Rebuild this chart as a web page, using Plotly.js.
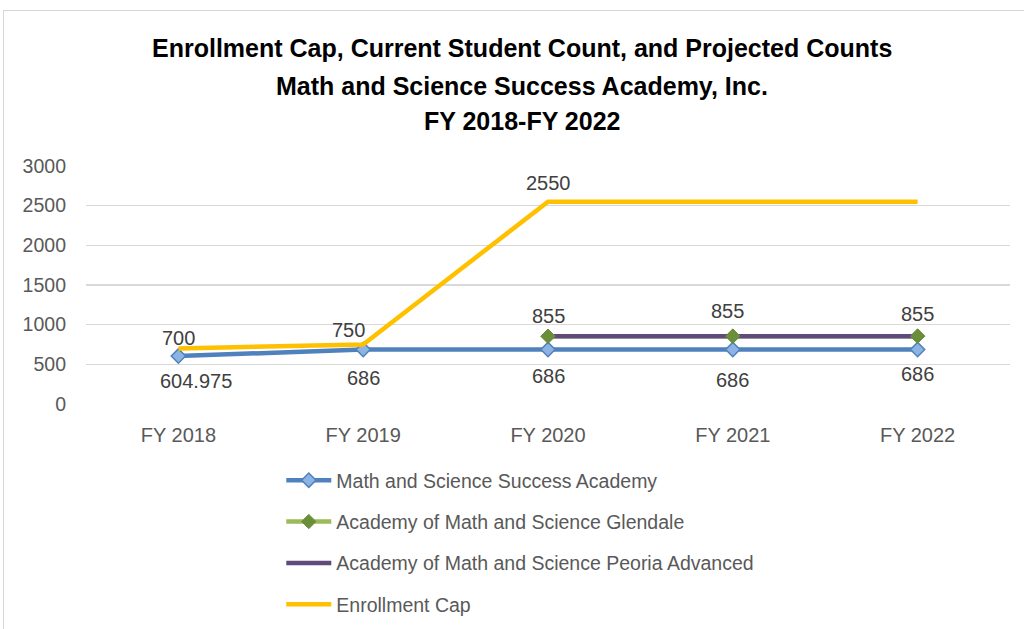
<!DOCTYPE html>
<html>
<head>
<meta charset="utf-8">
<script src="https://cdn.plot.ly/plotly-3.0.1.min.js"></script>
<style>
  html, body { margin: 0; padding: 0; background: #fff; }
  #wrap { position: relative; width: 1024px; height: 629px; overflow: hidden; }
  #chart { position: absolute; left: 0; top: 0; width: 1024px; height: 629px; }
  #frame { position: absolute; left: 3px; top: 10px; width: 1040px; height: 640px; border: 1.5px solid #d6d6d6; box-sizing: border-box; pointer-events: none; }
</style>
</head>
<body>
<div id="wrap"><div id="chart"></div><div id="frame"></div></div>
<script>
// ---- data ----
const categories = ["FY 2018", "FY 2019", "FY 2020", "FY 2021", "FY 2022"];
const mssaValues = [604.975, 686, 686, 686, 686];
const glendaleValues = [null, null, 855, 855, 855];
const peoriaValues = [null, null, 855, 855, 855];
const capValues = [700, 750, 2550, 2550, 2550];
const seriesNames = [
  "Math and Science Success Academy",
  "Academy of Math and Science Glendale",
  "Academy of Math and Science Peoria Advanced",
  "Enrollment Cap"
];
const titleLines = [
  "Enrollment Cap, Current Student Count, and Projected Counts",
  "Math and Science Success Academy, Inc.",
  "FY 2018-FY 2022"
];
const yTicks = [0, 500, 1000, 1500, 2000, 2500, 3000];

// ---- styling ----
const FONT = "Liberation Sans, Arial, sans-serif";
const GRAY = "#595959";
const BLUE = "#4f81bd", BLUE_FILL = "#8db3e2";
const GREEN = "#9bbb59", GREEN_DARK = "#6b8e3a";
const PURPLE = "#604a7b";
const GOLD = "#ffc000";
const LABEL_SIZE = 20;

const traces = [
  { x: categories, y: mssaValues, name: seriesNames[0], type: "scatter", mode: "lines+markers",
    line: { color: BLUE, width: 4.5 }, marker: { symbol: "diamond", size: 11, color: BLUE_FILL, line: { color: BLUE, width: 1.5 } },
    legendgroup: "a" },
  { x: categories, y: glendaleValues, name: seriesNames[1], type: "scatter", mode: "lines+markers",
    line: { color: GREEN, width: 4.5 }, marker: { symbol: "diamond", size: 11, color: GREEN_DARK, line: { color: GREEN_DARK, width: 1 } },
    legendgroup: "b" },
  { x: categories, y: peoriaValues, name: seriesNames[2], type: "scatter", mode: "lines",
    line: { color: PURPLE, width: 4.5 }, legendgroup: "c" },
  { x: categories, y: glendaleValues, name: seriesNames[1], type: "scatter", mode: "markers", showlegend: false,
    marker: { symbol: "diamond", size: 11, color: GREEN_DARK, line: { color: GREEN_DARK, width: 1 } }, hoverinfo: "skip",
    legendgroup: "b" },
  { x: categories, y: capValues, name: seriesNames[3], type: "scatter", mode: "lines",
    line: { color: GOLD, width: 4.5 }, legendgroup: "d" }
];

// label offsets (pixels) — styling only
const mssaShift = [[18, -25], [0, -28], [0, -26], [0, -30], [0, -24]];
const capShift = [[0, 10], [-15, 15], [0, 19]];
const glenShift = [[0, 20], [-5, 25], [0, 22]];

const annotations = [];
function addLabels(values, shifts, offset) {
  values.forEach((v, i) => {
    if (v === null) return;
    const s = shifts[i - offset];
    if (!s) return;
    annotations.push({ x: categories[i], y: v, xref: "x", yref: "y", text: String(v), showarrow: false,
      xshift: s[0], yshift: s[1], yanchor: "middle", font: { family: FONT, size: LABEL_SIZE, color: "#404040" } });
  });
}
addLabels(mssaValues, mssaShift, 0);
addLabels(capValues.slice(0, 3), capShift, 0);
addLabels(glendaleValues, glenShift, 2);

const titleY = [48, 86, 121];
titleLines.forEach((t, i) => {
  annotations.push({ xref: "paper", yref: "paper", x: (522 - 85.5) / 925, y: (404 - titleY[i]) / 238,
    xanchor: "center", yanchor: "middle", showarrow: false, text: "<b>" + t + "</b>",
    font: { family: FONT, size: 25, color: "#000" } });
});

const layout = {
  width: 1024, height: 629,
  margin: { l: 85.5, r: 13.5, t: 166, b: 225, pad: 0, autoexpand: false },
  paper_bgcolor: "#fff", plot_bgcolor: "#fff",
  showlegend: true,
  legend: { x: (281 - 85.5) / 925, y: (404 - 461) / 238, xanchor: "left", yanchor: "top",
    orientation: "v", traceorder: "grouped", tracegroupgap: 13, itemwidth: 45,
    font: { family: FONT, size: 19.5, color: GRAY }, bgcolor: "rgba(0,0,0,0)" },
  xaxis: { type: "category", range: [-0.5, 4.5], showgrid: false, zeroline: false, showline: false,
    ticks: "", ticklabelstandoff: 17, tickfont: { family: FONT, size: 20, color: GRAY }, fixedrange: true, automargin: false },
  yaxis: { range: [0, 3000], tickvals: yTicks, showgrid: true, gridcolor: "#d9d9d9", gridwidth: 1.5,
    zeroline: false, showline: false, ticks: "", ticklabelstandoff: 19,
    tickfont: { family: FONT, size: 19.5, color: GRAY }, fixedrange: true, automargin: false },
  annotations: annotations
};

Plotly.newPlot("chart", traces, layout, { displayModeBar: false, staticPlot: true });
</script>
</body>
</html>
